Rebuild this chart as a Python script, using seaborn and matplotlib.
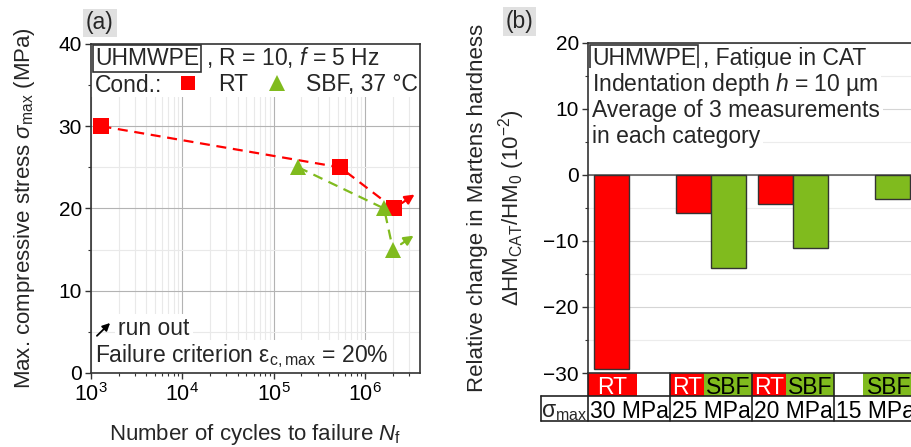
import numpy as np
import pandas as pd
import matplotlib
matplotlib.use("Agg")
import matplotlib.pyplot as plt
import seaborn as sns
from matplotlib.lines import Line2D
from matplotlib.patches import Rectangle
from matplotlib.ticker import MultipleLocator, LogLocator, NullFormatter

# ---------------- data: panel (a) ----------------
rt_cycles = [1.3e3, 5.3e5, 2.05e6]
rt_stress = [30, 25, 20]
sbf_cycles = [1.85e5, 1.6e6, 2.0e6]
sbf_stress = [25, 20, 15]
# run-out specimens (last point of each series)
runout_rt = (2.05e6, 20)
runout_sbf = (2.0e6, 15)

# ---------------- data: panel (b) ----------------
stress_levels = ["30 MPa", "25 MPa", "20 MPa", "15 MPa"]
conditions = ["RT", "SBF"]
hm_rt = [-29.4, -5.7, -4.4, np.nan]
hm_sbf = [np.nan, -14.1, -11.1, -3.6]

RED = "#ff0000"
GREEN = "#80bb1e"
EDGE = "#333333"
FS = 16.5
TFS = 15

sns.set_style("ticks")
plt.rcParams.update({
    "font.family": ["Liberation Sans", "DejaVu Sans"],
    "mathtext.fontset": "custom",
    "mathtext.rm": "Liberation Sans",
    "mathtext.it": "Liberation Sans:italic",
    "mathtext.bf": "Liberation Sans:bold",
    "mathtext.sf": "Liberation Sans",
    "axes.edgecolor": "#333333",
    "axes.linewidth": 1.2,
    "xtick.color": "#333333",
    "ytick.color": "#333333",
    "xtick.labelcolor": "black",
    "ytick.labelcolor": "black",
    "xtick.major.size": 4, "ytick.major.size": 4,
    "xtick.minor.size": 2.5, "ytick.minor.size": 2.5,
    "xtick.major.width": 1.0, "ytick.major.width": 1.0,
    "xtick.minor.width": 0.8, "ytick.minor.width": 0.8,
    "xtick.major.pad": 3, "ytick.major.pad": 2.5,
})

fig = plt.figure(figsize=(9.12, 4.47), dpi=100)
axA = fig.add_axes([91 / 912, 74 / 447, 329 / 912, 329 / 447])
axB = fig.add_axes([588 / 912, 74 / 447, 328 / 912, 330 / 447])

# =============== panel (a) ===============
dfA = pd.DataFrame({
    "cycles": rt_cycles + sbf_cycles,
    "stress": rt_stress + sbf_stress,
    "cond": ["RT"] * len(rt_cycles) + ["SBF"] * len(sbf_cycles),
})
axA.set_xscale("log")
for cond, col, mk in [("RT", RED, "s"), ("SBF", GREEN, "^")]:
    d = dfA[dfA["cond"] == cond]
    sns.lineplot(data=d, x="cycles", y="stress", ax=axA, color=col,
                 marker=mk, markersize=12, mec=col, mfc=col, mew=0,
                 linestyle="--", lw=1.6, estimator=None, zorder=3)
    axA.lines[-1].set_dashes([4.5, 3])

for (x, y), col in [(runout_rt, RED), (runout_sbf, GREEN)]:
    axA.annotate("", xy=(x * 1.68, y + 1.7), xytext=(x, y),
                 arrowprops=dict(arrowstyle="-|>", color=col, lw=1.6,
                                 shrinkA=7, shrinkB=0, mutation_scale=14),
                 zorder=4)

axA.set_xlim(1e3, 3.95e6)
axA.set_ylim(0, 40)
axA.yaxis.set_major_locator(MultipleLocator(10))
axA.yaxis.set_minor_locator(MultipleLocator(5))
axA.xaxis.set_major_locator(LogLocator(base=10, numticks=10))
axA.xaxis.set_minor_locator(LogLocator(base=10, subs=np.arange(2, 10), numticks=20))
axA.xaxis.set_minor_formatter(NullFormatter())
axA.set_axisbelow(True)
axA.grid(which="major", color="#b3b3b3", lw=0.8)
axA.grid(which="minor", color="#e9e9e9", lw=0.8)
axA.tick_params(axis="y", labelsize=TFS)
axA.tick_params(axis="x", labelsize=TFS + 0.5)
for s in axA.spines.values():
    s.set_visible(True)
    s.set_zorder(5)

axA.add_patch(Rectangle((0, 0.84), 1, 0.16, transform=axA.transAxes,
                        fc="white", ec="none", zorder=1))

axA.set_xlabel("Number of cycles to failure $N_\\mathrm{f}$", fontsize=16)
axA.xaxis.set_label_coords(0.5, -0.148)
axA.set_ylabel("Max. compressive stress $\\sigma_\\mathrm{max}$ (MPa)", fontsize=16)
axA.yaxis.set_label_coords(-0.165, 0.5)

t1 = axA.text(0.012, 0.936, "UHMWPE", transform=axA.transAxes, fontsize=FS,
              va="baseline", ha="left", zorder=6,
              bbox=dict(boxstyle="square,pad=0.1", fc="white", ec="#333333", lw=1.2))
axA.annotate(", R = 10, $f$ = 5 Hz", xy=(1, 0), xycoords=t1,
             xytext=(5, 0), textcoords="offset points", fontsize=FS,
             va="bottom", ha="left", zorder=6)
axA.text(0.012, 0.854, "Cond.:", transform=axA.transAxes, fontsize=FS,
         va="baseline", ha="left", zorder=6)
legA = axA.legend(
    handles=[Line2D([], [], ls="none", marker="s", color=RED, ms=9.5, mew=0),
             Line2D([], [], ls="none", marker="^", color=GREEN, ms=12, mew=0)],
    labels=["RT", "SBF, 37 °C"], ncol=2, loc="center left",
    bbox_to_anchor=(0.267, 0.877), frameon=False, fontsize=FS,
    handlelength=0.8, handletextpad=0.9, columnspacing=0.86,
    borderpad=0, borderaxespad=0)
legA.set_zorder(6)

axA.text(0.082, 0.1155, "run out", transform=axA.transAxes, fontsize=FS,
         va="baseline", ha="left", zorder=6,
         bbox=dict(boxstyle="square,pad=0.15", fc="white", ec="none"))
axA.annotate("", xy=(0.058, 0.152), xytext=(0.018, 0.113),
             xycoords="axes fraction", textcoords="axes fraction",
             arrowprops=dict(arrowstyle="-|>", color="black", lw=1.3,
                             shrinkA=0, shrinkB=0, mutation_scale=11),
             zorder=7)
axA.text(0.012, 0.033, "Failure criterion ε$_\\mathrm{c,max}$ = 20%",
         transform=axA.transAxes, fontsize=FS, va="baseline", ha="left",
         zorder=6, bbox=dict(boxstyle="square,pad=0.1", fc="white", ec="none"))
axA.text(0.027, 1.064, "(a)", transform=axA.transAxes, fontsize=FS,
         ha="center", va="center",
         bbox=dict(boxstyle="square,pad=0.12", fc="#e0e0e0", ec="none"))

# =============== panel (b) ===============
dfB = pd.DataFrame({
    "level": stress_levels * 2,
    "cond": ["RT"] * len(stress_levels) + ["SBF"] * len(stress_levels),
    "value": hm_rt + hm_sbf,
})
sns.barplot(data=dfB, x="level", y="value", hue="cond", hue_order=conditions,
            order=stress_levels, palette={"RT": RED, "SBF": GREEN}, ax=axB,
            width=0.85, edgecolor=EDGE, linewidth=1.0, saturation=1,
            errorbar=None, legend=False, zorder=3)
axB.set_xlim(-0.5, len(stress_levels) - 0.5)
axB.set_ylim(-30, 20)
axB.yaxis.set_major_locator(MultipleLocator(10))
axB.yaxis.set_minor_locator(MultipleLocator(5))
axB.set_axisbelow(True)
axB.yaxis.grid(True, which="major", color="#d5d5d5", lw=0.8)
axB.yaxis.grid(True, which="minor", color="#ececec", lw=0.8)
axB.xaxis.grid(False)
axB.axhline(0, color="#555555", lw=1.1, zorder=2.5)
axB.set_xticks([])
axB.set_xlabel("")
axB.tick_params(axis="y", labelsize=TFS)
for s in axB.spines.values():
    s.set_visible(True)
    s.set_zorder(5)

axB.set_ylabel("Relative change in Martens hardness", fontsize=16)
axB.yaxis.set_label_coords(-0.305, 0.5)
axB.text(-0.232, 0.5, "ΔHM$_\\mathrm{CAT}$/HM$_0$ (10$^{-2}$)",
         transform=axB.transAxes, fontsize=16, rotation=90,
         ha="center", va="center")

t2 = axB.text(0.012, 0.933, "UHMWPE", transform=axB.transAxes, fontsize=FS,
              va="baseline", ha="left", zorder=6,
              bbox=dict(boxstyle="square,pad=0.1", fc="white", ec="#333333", lw=1.2))
axB.annotate(", Fatigue in CAT", xy=(1, 0), xycoords=t2,
             xytext=(5, 0), textcoords="offset points", fontsize=FS,
             va="bottom", ha="left", zorder=6,
             bbox=dict(boxstyle="square,pad=0.1", fc="white", ec="none"))
for txt, yb in [("Indentation depth $h$ = 10 µm", 0.855),
                ("Average of 3 measurements", 0.776),
                ("in each category", 0.697)]:
    axB.text(0.012, yb, txt, transform=axB.transAxes, fontsize=FS,
             va="baseline", ha="left", zorder=6,
             bbox=dict(boxstyle="square,pad=0.12", fc="white", ec="none"))
axB.text(-0.209, 1.065, "(b)", transform=axB.transAxes, fontsize=FS,
         ha="center", va="center",
         bbox=dict(boxstyle="square,pad=0.12", fc="#e0e0e0", ec="none"))

# category table under panel (b)
trans = axB.get_xaxis_transform()
r1h = 23 / 330
r2h = 25 / 330
for i, lvl in enumerate(stress_levels):
    has_rt = not np.isnan(hm_rt[i])
    has_sbf = not np.isnan(hm_sbf[i])
    if has_rt and has_sbf:
        split = i - 0.08
    elif has_rt:
        split = i + 0.1
    else:
        split = i - 0.15
    if has_rt:
        axB.add_patch(Rectangle((i - 0.5, -r1h), split - (i - 0.5), r1h,
                                transform=trans, fc=RED, ec="none", clip_on=False))
        axB.text((i - 0.5 + split) / 2, -r1h / 2, "RT", transform=trans,
                 color="white", fontsize=FS, ha="center", va="center_baseline")
    if has_sbf:
        axB.add_patch(Rectangle((split, -r1h), i + 0.5 - split, r1h,
                                transform=trans, fc=GREEN, ec="none", clip_on=False))
        axB.text((split + i + 0.5) / 2, -r1h / 2, "SBF", transform=trans,
                 color="black", fontsize=FS, ha="center", va="center_baseline")
    axB.text(i, -r1h - r2h / 2, lvl, transform=trans, color="black",
             fontsize=FS, ha="center", va="center_baseline")
    axB.add_line(Line2D([i - 0.5, i - 0.5], [0, -r1h - r2h], transform=trans,
                        color="#222222", lw=1.2, clip_on=False))
axB.add_line(Line2D([len(stress_levels) - 0.5] * 2, [0, -r1h - r2h],
                    transform=trans, color="#222222", lw=1.2, clip_on=False))
sig_w = 47 / 328
for yy in [-r1h, -r1h - r2h]:
    axB.add_line(Line2D([-sig_w, 1.02], [yy, yy], transform=axB.transAxes,
                        color="#222222", lw=1.2, clip_on=False))
axB.add_line(Line2D([-sig_w, -sig_w], [-r1h, -r1h - r2h], transform=axB.transAxes,
                    color="#222222", lw=1.2, clip_on=False))
axB.text(-sig_w / 2, -r1h - r2h / 2, "σ$_\\mathrm{max}$", transform=axB.transAxes,
         fontsize=FS, ha="center", va="center_baseline")

fig.savefig("out.png", dpi=100)
